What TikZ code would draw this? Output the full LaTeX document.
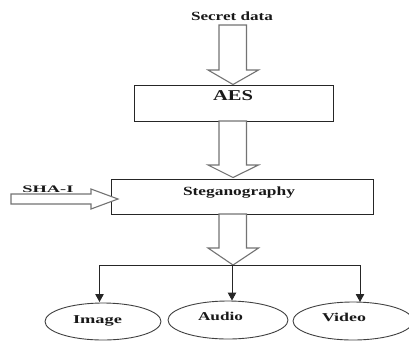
\documentclass[tikz,border=0pt]{standalone}
\usepackage{fontspec}
\usepackage{graphicx}
\setmainfont{Liberation Serif}
\usetikzlibrary{arrows.meta,shapes.geometric}

% bold label set at a given size and stretched to a given width
\newcommand\widelabel[3]{{\fontsize{#2}{#2}\selectfont\bfseries\resizebox{#1}{\height}{#3}}}

\begin{document}
\begin{tikzpicture}[x=1pt,y=-1pt,
  procbox/.style={draw=black!85, line width=0.9pt, inner sep=0pt},
  blockarrow/.style={draw=black!55, line width=1.1pt, fill=white, line join=miter},
  medium/.style={draw=black!75, line width=0.9pt, ellipse, inner sep=0pt},
  lbl/.style={inner sep=0pt, anchor=base, text=black!90},
  branch/.style={draw=black!85, line width=0.9pt},
  tipped/.style={branch, -{Triangle[width=8.5pt,length=8pt]}}]
\useasboundingbox (0,0) rectangle (409,341);

% processing boxes
\node[procbox, minimum width=199pt, minimum height=36pt] (aes)  at (233.5,103) {};
\node[procbox, minimum width=262pt, minimum height=35pt] (steg) at (242,196.5) {};

% wide block arrows
\draw[blockarrow] (219,25) -- (246.5,25) -- (246.5,70) -- (258.5,70) -- (233,84.5)
  -- (208,70) -- (219,70) -- cycle;
\draw[blockarrow] (219,121) -- (246.5,121) -- (246.5,165) -- (258.5,165) -- (233,177.5)
  -- (208,165) -- (219,165) -- cycle;
\draw[blockarrow] (219,214) -- (246.5,214) -- (246.5,248) -- (258.5,248) -- (233,265)
  -- (208,248) -- (219,248) -- cycle;
\draw[blockarrow] (11,194) -- (91,194) -- (91,189) -- (118,199) -- (91,209)
  -- (91,204) -- (11,204) -- cycle;

% labels
\node[lbl] (secret) at (232,20)   {\widelabel{82pt}{12.5}{Secret data}};
\node[lbl] (aesT)   at (233,100)  {\widelabel{40pt}{15}{AES}};
\node[lbl] (stegT)  at (239,195)  {\widelabel{112pt}{12.5}{Steganography}};
\node[lbl] (shaT)   at (48,192.5) {\widelabel{51pt}{10}{SHA-I}};

% output media
\node[medium, minimum width=116pt, minimum height=37pt] (img) at (103,321.5) {};
\node[medium, minimum width=120pt, minimum height=38pt] (aud) at (228,320) {};
\node[medium, minimum width=120pt, minimum height=38pt] (vid) at (353,321) {};
\node[lbl] (imgT) at (97.5,323) {\widelabel{49pt}{12}{Image}};
\node[lbl] (audT) at (220.5,320) {\widelabel{45pt}{12}{Audio}};
\node[lbl] (vidT) at (344,321) {\widelabel{44pt}{12}{Video}};

% distribution lines
\coordinate (jL) at (99.5,265);
\coordinate (jM) at (232,265);
\coordinate (jR) at (360,265);
\draw[branch] (jL) -- (jR);
\draw[tipped] (jL) -- (jL |- 0,302);
\draw[tipped] (jM) -- (jM |- aud.north);
\draw[tipped] (jR) -- (jR |- 0,302);
\end{tikzpicture}
\end{document}
